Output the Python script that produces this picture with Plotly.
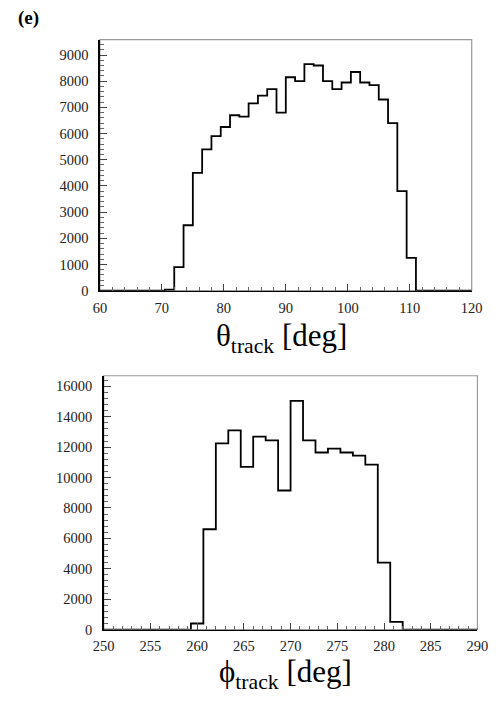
import numpy as np
import plotly.graph_objects as go

W, H = 498, 713

# theta histogram: 40 bins of 1.5 deg from 60 to 120
theta_lo, theta_hi, theta_nbins = 60.0, 120.0, 40
theta_counts = [0, 0, 0, 0, 0, 0, 0, 40, 900, 2500,
                4500, 5400, 5900, 6250, 6700, 6650, 7150, 7450, 7700, 6800,
                8150, 8000, 8650, 8600, 8000, 7700, 7950, 8350, 7950, 7850,
                7300, 6400, 3800, 1250, 0, 0, 0, 0, 0, 0]

# phi histogram: 30 bins of 4/3 deg from 250 to 290
phi_lo, phi_hi, phi_nbins = 250.0, 290.0, 30
phi_counts = [0, 0, 0, 0, 0, 0, 0, 400, 6600, 12250,
              13100, 10700, 12700, 12450, 9150, 15050, 12450, 11650, 11900, 11650,
              11450, 10850, 4400, 500, 0, 0, 0, 0, 0, 0]

theta_yticks = [0, 1000, 2000, 3000, 4000, 5000, 6000, 7000, 8000, 9000]
phi_yticks = [0, 2000, 4000, 6000, 8000, 10000, 12000, 14000, 16000]
theta_xticks = [60, 70, 80, 90, 100, 110, 120]
phi_xticks = [250, 255, 260, 265, 270, 275, 280, 285, 290]

SERIF = "Liberation Serif, DejaVu Serif, serif"


def step_xy(lo, hi, n, counts):
    edges = np.linspace(lo, hi, n + 1)
    xs = list(edges)
    ys = list(counts) + [counts[-1]]
    return xs, ys


fig = go.Figure()

tx, ty = step_xy(theta_lo, theta_hi, theta_nbins, theta_counts)
fig.add_trace(go.Scatter(x=tx, y=ty, mode="lines", line=dict(shape="hv", color="black", width=1.8),
                         xaxis="x", yaxis="y", showlegend=False, hoverinfo="skip"))
px_, py_ = step_xy(phi_lo, phi_hi, phi_nbins, phi_counts)
fig.add_trace(go.Scatter(x=px_, y=py_, mode="lines", line=dict(shape="hv", color="black", width=1.8),
                         xaxis="x2", yaxis="y2", showlegend=False, hoverinfo="skip"))


def px2paper_x(p):
    return p / W


def px2paper_y(p):
    return 1 - p / H


tickfont = dict(family=SERIF, size=14.5, color="#222")

common_x = dict(showgrid=False, zeroline=False, ticks="inside", ticklen=7, tickwidth=1,
                tickcolor="#444", showline=True, linecolor="black", linewidth=1.5,
                tickfont=tickfont, mirror=False, ticklabelstandoff=3)
common_y = dict(showgrid=False, zeroline=False, ticks="inside", ticklen=7, tickwidth=1,
                tickcolor="#444", showline=True, linecolor="black", linewidth=1.5,
                tickfont=tickfont, mirror=False, ticklabelstandoff=7)

fig.update_layout(
    width=W, height=H,
    margin=dict(l=0, r=0, t=0, b=0),
    paper_bgcolor="white", plot_bgcolor="white",
    xaxis=dict(domain=[px2paper_x(93), px2paper_x(482)], range=[theta_lo, theta_hi],
               tickvals=theta_xticks, ticktext=[str(v) for v in theta_xticks], anchor="y",
               minor=dict(dtick=2, ticks="inside", ticklen=4, tickcolor="#666", showgrid=False),
               **common_x),
    yaxis=dict(domain=[px2paper_y(294), px2paper_y(40)], range=[0, 9590],
               tickvals=theta_yticks, ticktext=[str(v) for v in theta_yticks], anchor="x",
               minor=dict(dtick=200, ticks="inside", ticklen=4, tickcolor="#666", showgrid=False),
               **common_y),
    xaxis2=dict(domain=[px2paper_x(97), px2paper_x(488)], range=[phi_lo, phi_hi],
                tickvals=phi_xticks, ticktext=[str(v) for v in phi_xticks], anchor="y2",
                minor=dict(dtick=1, ticks="inside", ticklen=4, tickcolor="#666", showgrid=False),
                **common_x),
    yaxis2=dict(domain=[px2paper_y(636.7), px2paper_y(380)], range=[0, 16700],
                tickvals=phi_yticks, ticktext=[str(v) for v in phi_yticks], anchor="x2",
                minor=dict(dtick=400, ticks="inside", ticklen=4, tickcolor="#666", showgrid=False),
                **common_y),
)

# gray frames (top / right)
for xr, yr in (("x", "y"), ("x2", "y2")):
    fig.add_shape(type="rect", xref=f"{xr} domain", yref=f"{yr} domain", x0=0, x1=1, y0=0, y1=1,
                  line=dict(color="#9a9a9a", width=1.2), fillcolor="rgba(0,0,0,0)", layer="below")

fig.add_annotation(text="<b>(e)</b>", xref="paper", yref="paper", x=px2paper_x(5), y=px2paper_y(18),
                   xanchor="left", yanchor="middle", showarrow=False,
                   font=dict(family=SERIF, size=19, color="black"))
fig.add_annotation(text="θ<sub>track</sub> [deg]", xref="paper", yref="paper",
                   x=px2paper_x(283), y=px2paper_y(342), xanchor="center", yanchor="middle",
                   showarrow=False, font=dict(family=SERIF, size=31, color="black"))
fig.add_annotation(text="ϕ<sub>track</sub> [deg]", xref="paper", yref="paper",
                   x=px2paper_x(287), y=px2paper_y(682), xanchor="center", yanchor="middle",
                   showarrow=False, font=dict(family=SERIF, size=31, color="black"))

fig.write_html("out.html",
               config={"displayModeBar": False, "staticPlot": True},
               post_script="document.body.style.margin='0';document.body.style.overflow='hidden';")
